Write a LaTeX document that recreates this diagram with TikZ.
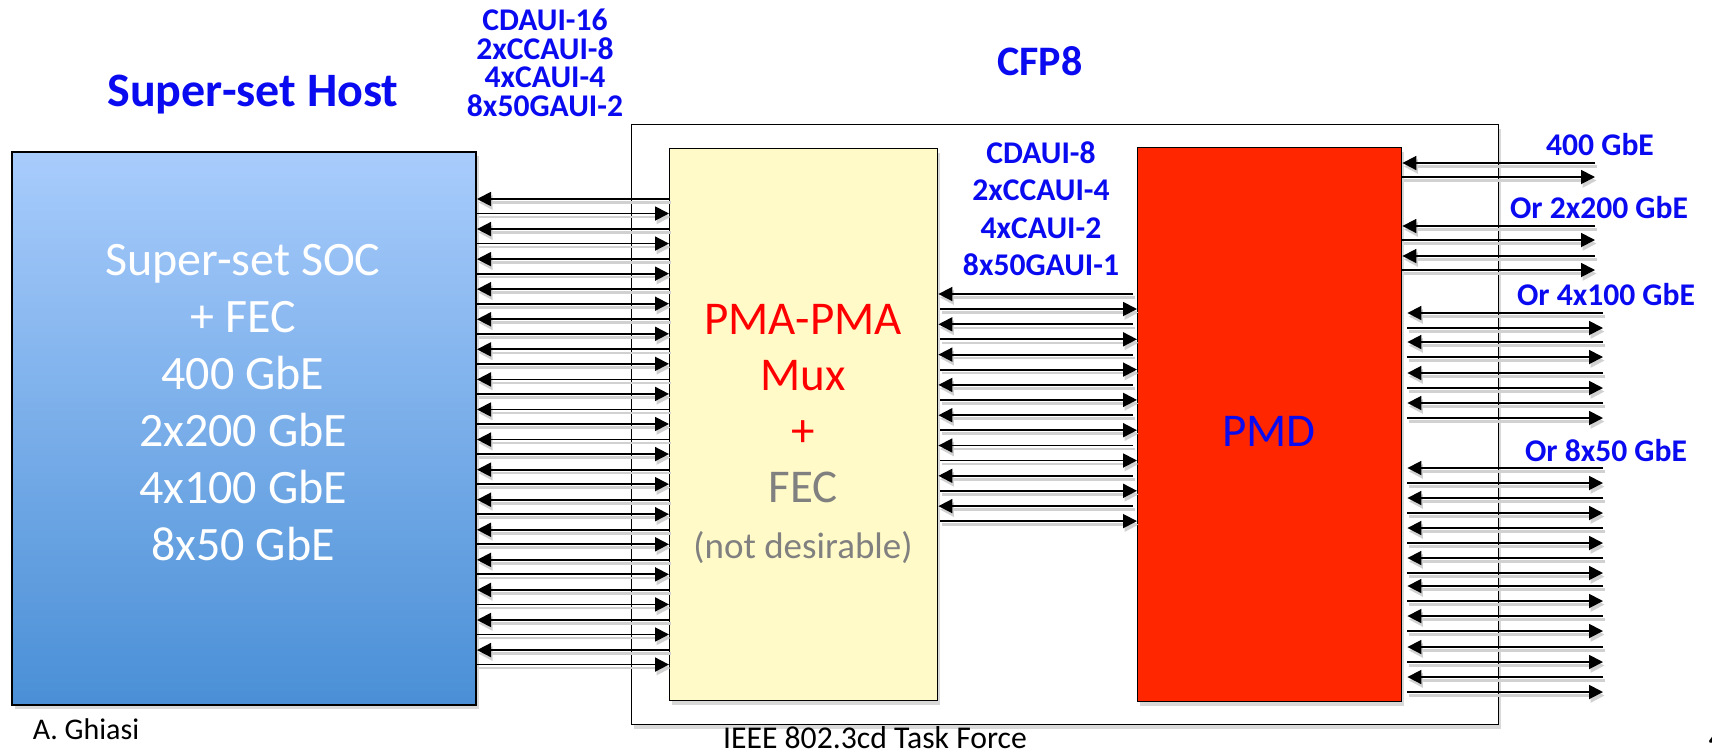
\documentclass[tikz,border=0pt]{standalone}
\usepackage{fontspec}
\setmainfont{Carlito}
\usetikzlibrary{arrows.meta,shadows}

\definecolor{labelblue}{RGB}{10,10,240}
\definecolor{hosttop}{RGB}{168,204,252}
\definecolor{hostbottom}{RGB}{74,143,214}
\definecolor{pmayellow}{RGB}{255,250,199}
\definecolor{pmdred}{RGB}{255,38,0}
\definecolor{fecgray}{RGB}{128,128,128}

\begin{document}
\begin{tikzpicture}[
    x=1pt, y=-1pt,
    box/.style={draw, line width=1.4pt, anchor=north west, inner sep=0pt, drop shadow={shadow xshift=2.5pt, shadow yshift=-4pt, opacity=0.3}},
    lane/.style={line width=1.8pt, -{Triangle[length=14pt,width=14pt]}, preaction={draw=black!18, line width=2.6pt, transform canvas={shift={(1.5pt,-3.5pt)}}}},
    tag/.style={font=\bfseries\fontsize{31.6}{28.7}\selectfont, text=labelblue, anchor=base},
    big/.style={font=\fontsize{47}{56}\selectfont, align=center},
    foot/.style={font=\fontsize{31.7}{38}\selectfont, anchor=base}
]
\useasboundingbox (0,0) rectangle (1712,748);

% boxes
\node[box, line width=1pt, fill=white, minimum width=867pt, minimum height=600pt] (cfp) at (631,124) {};
\node[box, line width=2pt, top color=hosttop, bottom color=hostbottom, minimum width=464pt, minimum height=553pt] (host) at (11,151) {};
\node[box, fill=pmayellow, minimum width=268pt, minimum height=552pt] (pma) at (669,148) {};
\node[box, fill=pmdred, minimum width=264pt, minimum height=554pt] (pmd) at (1137,147) {};

% box texts
\node[big, font=\fontsize{48}{57}\selectfont, text=white] (soc) at (243,402.5) {Super-set SOC\\+ FEC\\400 GbE\\2x200 GbE\\4x100 GbE\\8x50 GbE};
\node[big, text=red] (mux) at (803,434) {PMA-PMA\\Mux\\+\\\textcolor{fecgray}{FEC}\\\textcolor{fecgray}{\fontsize{37}{44}\selectfont(not desirable)}};
\node[big, text=labelblue] (pmdtext) at (1269,431) {PMD};

% labels
\node[tag, font=\bfseries\fontsize{48}{57}\selectfont] (hostlabel) at (253,106.5) {Super-set Host};
\node[tag, font=\bfseries\fontsize{42}{50}\selectfont] (cfplabel) at (1040,75.5) {CFP8};
\node[tag, anchor=center, align=center] (hostif) at (545,62.8) {CDAUI-16\\2xCCAUI-8\\4xCAUI-4\\8x50GAUI-2};
\node[tag, anchor=center, align=center, font=\bfseries\fontsize{31.6}{37.3}\selectfont] (modif) at (1041,208.8) {CDAUI-8\\2xCCAUI-4\\4xCAUI-2\\8x50GAUI-1};
\node[tag] (l400) at (1600,155) {400 GbE};
\node[tag] (l200) at (1599,218) {Or 2x200 GbE};
\node[tag] (l100) at (1606,305) {Or 4x100 GbE};
\node[tag] (l50) at (1606,461) {Or 8x50 GbE};

\node[foot, font=\fontsize{30}{36}\selectfont] (author) at (86,739) {A. Ghiasi};
\node[foot] (tf) at (875,748.5) {IEEE 802.3cd Task Force};
\node[foot, anchor=base west] (page) at (1705,748) {4};

% free ends of the optical lanes
\coordinate (fiberA) at (1595,0);
\coordinate (fiberB) at (1603,0);

% host <-> PMA lanes
\foreach \k in {0,...,15}{
  \pgfmathsetmacro{\ya}{199+30.07*\k}
  \pgfmathsetmacro{\yb}{\ya+14.5}
  \draw[lane] (pma.west |- 0,\ya) -- (host.east |- 0,\ya);
  \draw[lane] (host.east |- 0,\yb) -- (pma.west |- 0,\yb);
}

% PMA <-> PMD lanes
\foreach \k in {0,...,7}{
  \pgfmathsetmacro{\ya}{294+30.3*\k}
  \pgfmathsetmacro{\yb}{\ya+15}
  \draw[lane, shorten <=4pt] (pmd.west |- 0,\ya) -- (pma.east |- 0,\ya);
  \draw[lane, shorten <=2pt] (pma.east |- 0,\yb) -- (pmd.west |- 0,\yb);
}

% PMD <-> line side
\foreach \ya in {163,226,256}{
  \pgfmathsetmacro{\yb}{\ya+14}
  \draw[lane] (fiberA |- 0,\ya) -- (pmd.east |- 0,\ya);
  \draw[lane] (pmd.east |- 0,\yb) -- (fiberA |- 0,\yb);
}
\foreach \ya in {313,342,373,403,468,498,528,558,586,616,647,677}{
  \pgfmathsetmacro{\yb}{\ya+15}
  \draw[lane, shorten >=5pt] (fiberB |- 0,\ya) -- (pmd.east |- 0,\ya);
  \draw[lane, shorten <=5pt] (pmd.east |- 0,\yb) -- (fiberB |- 0,\yb);
}
\end{tikzpicture}
\end{document}
